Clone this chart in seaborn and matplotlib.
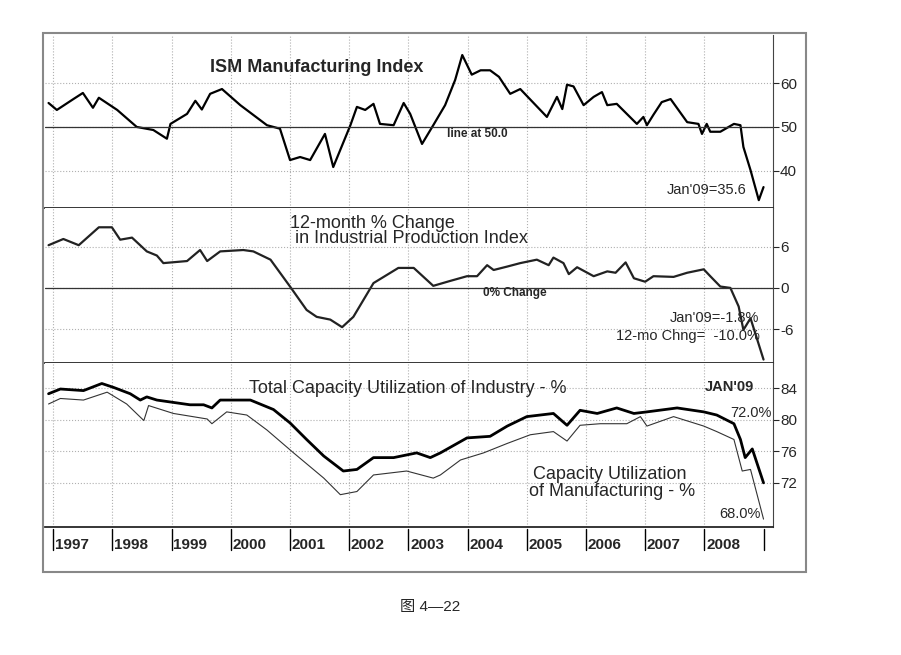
import numpy as np
import pandas as pd
import seaborn as sns
import matplotlib.pyplot as plt
from matplotlib.patches import Rectangle

sns.set_style("white")
plt.rcParams['font.family'] = ['Liberation Sans', 'Noto Sans CJK SC', 'DejaVu Sans']
plt.rcParams['axes.unicode_minus'] = False

# ISM Manufacturing Index
ism_t = [1996.92, 1997.06, 1997.34, 1997.50, 1997.67, 1997.77, 1998.08, 1998.41, 1998.69, 1998.92,
         1998.98, 1999.26, 1999.40, 1999.51, 1999.65, 1999.85, 2000.16, 2000.61, 2000.83, 2001.00,
         2001.17, 2001.34, 2001.59, 2001.73, 2002.02, 2002.13, 2002.27, 2002.41, 2002.52, 2002.75,
         2002.92, 2003.03, 2003.23, 2003.42, 2003.62, 2003.79, 2003.91, 2004.07, 2004.22, 2004.38,
         2004.53, 2004.72, 2004.89, 2005.34, 2005.51, 2005.60, 2005.68, 2005.79, 2005.96, 2006.13,
         2006.27, 2006.36, 2006.52, 2006.86, 2006.97, 2007.03, 2007.14, 2007.28, 2007.43, 2007.71,
         2007.90, 2007.96, 2008.04, 2008.10, 2008.27, 2008.50, 2008.61, 2008.66, 2008.78, 2008.92, 2009.00]
ism_v = [55.5, 53.9, 56.4, 57.8, 54.4, 56.7, 53.9, 50.0, 49.3, 47.3,
         50.7, 53.0, 56.0, 54.0, 57.6, 58.7, 55.0, 50.4, 49.6, 42.4,
         43.1, 42.4, 48.4, 40.8, 50.4, 54.6, 53.9, 55.3, 50.7, 50.4,
         55.5, 53.0, 46.1, 50.4, 55.0, 60.8, 66.5, 62.0, 63.0, 63.0,
         61.5, 57.6, 58.7, 52.3, 56.9, 54.1, 59.7, 59.3, 55.0, 56.9,
         58.0, 55.0, 55.3, 50.7, 52.3, 50.4, 52.8, 55.7, 56.4, 51.1,
         50.7, 48.4, 50.7, 48.9, 48.9, 50.7, 50.4, 45.4, 40.1, 33.2, 36.2]

# 12-month % change in industrial production
ip_t = [1996.92, 1997.17, 1997.43, 1997.77, 1997.99, 1998.13, 1998.33, 1998.58, 1998.75, 1998.86,
        1999.26, 1999.48, 1999.60, 1999.82, 2000.21, 2000.38, 2000.67, 2001.00, 2001.28, 2001.45,
        2001.68, 2001.88, 2002.07, 2002.41, 2002.83, 2003.09, 2003.42, 2003.70, 2003.99, 2004.16,
        2004.33, 2004.44, 2004.67, 2004.89, 2005.17, 2005.37, 2005.45, 2005.62, 2005.71, 2005.85,
        2006.13, 2006.36, 2006.50, 2006.67, 2006.81, 2007.00, 2007.14, 2007.48, 2007.71, 2007.99,
        2008.10, 2008.27, 2008.44, 2008.58, 2008.66, 2008.78, 2009.00]
ip_v = [6.2, 7.1, 6.2, 8.8, 8.8, 7.0, 7.3, 5.3, 4.7, 3.6,
        3.9, 5.5, 3.9, 5.3, 5.5, 5.3, 4.1, 0.2, -3.2, -4.2,
        -4.6, -5.7, -4.2, 0.7, 2.9, 2.9, 0.3, 1.0, 1.7, 1.7,
        3.3, 2.6, 3.1, 3.6, 4.1, 3.3, 4.4, 3.6, 2.0, 3.0,
        1.7, 2.4, 2.2, 3.7, 1.4, 0.9, 1.7, 1.6, 2.2, 2.7,
        1.7, 0.2, 0.0, -2.7, -6.1, -4.4, -10.4]

# Total capacity utilization of industry
tcu_t = [1996.92, 1997.12, 1997.51, 1997.82, 1998.02, 1998.30, 1998.47, 1998.58, 1998.75, 1999.31,
         1999.54, 1999.68, 1999.82, 2000.33, 2000.72, 2001.00, 2001.28, 2001.57, 2001.90, 2002.13,
         2002.41, 2002.75, 2003.14, 2003.37, 2003.54, 2003.99, 2004.38, 2004.67, 2005.00, 2005.45,
         2005.68, 2005.90, 2006.19, 2006.52, 2006.81, 2007.03, 2007.54, 2007.99, 2008.21, 2008.50,
         2008.61, 2008.69, 2008.81, 2009.00]
tcu_v = [83.3, 83.9, 83.7, 84.6, 84.1, 83.3, 82.5, 82.9, 82.5, 81.9,
         81.9, 81.5, 82.5, 82.5, 81.3, 79.6, 77.5, 75.4, 73.5, 73.7,
         75.2, 75.2, 75.8, 75.2, 75.8, 77.7, 77.9, 79.2, 80.4, 80.8,
         79.3, 81.2, 80.8, 81.5, 80.8, 81.0, 81.5, 81.0, 80.6, 79.5,
         77.5, 75.2, 76.3, 72.0]

# Capacity utilization of manufacturing
mcu_t = [1996.92, 1997.12, 1997.51, 1997.91, 1998.24, 1998.53, 1998.61, 1999.03, 1999.60, 1999.68,
         1999.93, 2000.27, 2000.61, 2001.06, 2001.57, 2001.85, 2002.13, 2002.41, 2002.97, 2003.42,
         2003.54, 2003.88, 2004.27, 2004.67, 2005.06, 2005.45, 2005.68, 2005.90, 2006.24, 2006.69,
         2006.92, 2007.03, 2007.48, 2007.99, 2008.21, 2008.50, 2008.64, 2008.78, 2009.00]
mcu_v = [82.0, 82.7, 82.5, 83.5, 82.0, 79.9, 81.8, 80.8, 80.1, 79.5,
         81.0, 80.6, 78.7, 75.8, 72.6, 70.5, 70.9, 73.0, 73.5, 72.6,
         73.0, 74.9, 75.8, 77.0, 78.1, 78.5, 77.3, 79.3, 79.5, 79.5,
         80.4, 79.2, 80.4, 79.2, 78.5, 77.5, 73.5, 73.7, 67.4]

years = list(range(1997, 2009))
XLIM = (1996.86, 2009.16)

fig = plt.figure(figsize=(9.01, 6.55), dpi=100)
fig.patches.append(Rectangle((43 / 901, 1 - 572 / 655), 763 / 901, 539 / 655,
                             transform=fig.transFigure, fill=False, ec='#888888', lw=1.5))

L, W = 45 / 901, 728 / 901
ax1 = fig.add_axes([L, 1 - 208 / 655, W, 173 / 655])
ax2 = fig.add_axes([L, 1 - 363 / 655, W, 155 / 655])
ax3 = fig.add_axes([L, 1 - 527 / 655, W, 164 / 655])


def style(ax, ylim, yticks):
    ax.set_xlim(*XLIM)
    ax.set_ylim(*ylim)
    ax.set_xticks(years)
    ax.set_yticks(yticks)
    ax.yaxis.tick_right()
    ax.tick_params(axis='y', direction='out', length=4, labelsize=11, pad=1)
    ax.tick_params(axis='x', length=0, labelbottom=False)
    ax.grid(True, color='#b0b0b0', ls=':', lw=0.8)
    for s in ['left', 'top']:
        ax.spines[s].set_visible(False)
    ax.spines['right'].set_color('#444444')
    ax.spines['bottom'].set_linewidth(1.3)
    ax.set_xlabel('')
    ax.set_ylabel('')


sns.lineplot(x=ism_t, y=ism_v, ax=ax1, color='black', lw=1.6)
ax1.axhline(50, color='#333333', lw=0.9)
style(ax1, (31.4, 71.1), [40, 50, 60])
ax1.text(1999.65, 62.5, 'ISM Manufacturing Index', fontsize=13, fontweight='bold', ha='left')
ax1.text(2003.65, 47.6, 'line at 50.0', fontsize=8.5, fontweight='bold')
ax1.text(2008.72, 35.6, "Jan'09=35.6", fontsize=10.5, ha='right', va='center')

sns.lineplot(x=ip_t, y=ip_v, ax=ax2, color='#222222', lw=1.6)
ax2.axhline(0, color='#333333', lw=0.9)
style(ax2, (-10.9, 11.6), [-6, 0, 6])
ax2.text(2001.0, 8.2, '12-month % Change\n in Industrial Production Index', fontsize=13,
         linespacing=0.85, va='center')
ax2.text(2004.26, -1.2, '0% Change', fontsize=8.5, fontweight='bold')
ax2.text(2008.93, -4.4, "Jan'09=-1.8%", fontsize=10.5, ha='right', va='center')
ax2.text(2008.93, -7.0, '12-mo Chng=  -10.0%', fontsize=10.5, ha='right', va='center')

sns.lineplot(x=tcu_t, y=tcu_v, ax=ax3, color='black', lw=2.0)
sns.lineplot(x=mcu_t, y=mcu_v, ax=ax3, color='#333333', lw=0.8)
style(ax3, (66.4, 87.2), [72, 76, 80, 84])
ax3.text(2000.3, 84.0, 'Total Capacity Utilization of Industry - %', fontsize=13, va='center')
ax3.text(2008.0, 84.1, "JAN'09", fontsize=10.5, fontweight='bold', va='center')
ax3.text(2009.14, 80.9, '72.0%', fontsize=10.5, ha='right', va='center')
ax3.text(2006.4, 72.0, 'Capacity Utilization\n of Manufacturing - %', fontsize=13,
         ha='center', va='center', linespacing=1.0)
ax3.text(2008.95, 68.0, '68.0%', fontsize=10.5, ha='right', va='center')

for y in years + [2009]:
    ax3.plot([y, y], [-0.01, -0.14], transform=ax3.get_xaxis_transform(), color='black',
             lw=1.0, clip_on=False)
for y in years:
    ax3.text(y + 0.03, -0.11, str(y), transform=ax3.get_xaxis_transform(), fontsize=11,
             fontweight='bold', va='center', ha='left')

fig.text(430 / 901, 1 - 607 / 655, '图 4—22', fontsize=11, ha='center', va='center')

fig.savefig('out.png', dpi=100)
